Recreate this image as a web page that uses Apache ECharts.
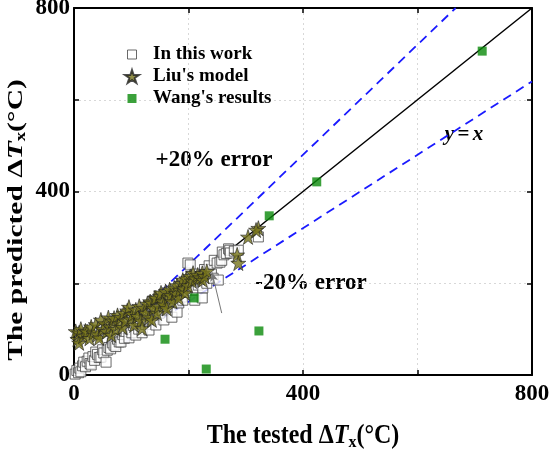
<!DOCTYPE html>
<html>
<head>
<meta charset="utf-8">
<script src="https://cdn.jsdelivr.net/npm/echarts@6/dist/echarts.min.js"></script>
<style>html,body{margin:0;padding:0;background:#fff;}#c{width:550px;height:453px;}</style>
</head>
<body>
<div id="c"></div>
<script>
// ---- Data ----
var axisTicks = [0, 400, 800];
var seriesNames = ['In this work', "Liu's model", "Wang's results"];
var xTitle = '{b|The tested Δ}{i|T}{s|x}{b|(°C)}';
var yTitle = '{b|The predicted Δ}{i|T}{s|x}{b|(°C)}';

// In this work: [tested, predicted]
var thisWork = [[2,2],[5,10],[8,5],[10,15],[12,7],[15,20],[17,28],[20,18],[23,30],[26,37],[28,25],[30,22],[33,40],[36,32],[38,50],[41,45],[44,38],[47,39],[50,55],[52,48],[56,28],[58,54],[61,60],[64,57],[67,70],[70,65],[73,62],[76,78],[79,72],[82,72],[85,88],[88,80],[91,95],[96,81],[98,100],[101,92],[104,108],[108,87],[110,112],[113,100],[116,118],[119,92],[122,125],[125,110],[128,130],[131,98],[134,138],[137,120],[140,145],[143,109],[146,150],[149,135],[152,158],[155,140],[157,120],[160,165],[163,150],[166,172],[169,159],[171,126],[174,178],[175,179],[178,160],[180,137],[183,157],[185,185],[188,170],[190,163],[193,195],[196,180],[199,244],[201,205],[203,240],[206,214],[208,190],[211,163],[214,220],[217,196],[220,205],[224,168],[225,190],[228,230],[232,200],[236,238],[240,220],[243,211],[245,250],[250,244],[252,207],[255,246],[258,250],[259,268],[262,262],[266,265],[270,275],[272,272],[273,266],[280,270],[287,272],[322,301]];

// Liu's model
var liuModel = [[3,95],[6,78],[9,92],[9,70],[12,100],[16,85],[20,96],[23,94],[27,80],[30,105],[34,92],[38,110],[41,88],[44,81],[47,120],[50,100],[54,112],[57,95],[60,125],[63,105],[65,87],[68,118],[70,124],[73,100],[76,130],[79,112],[82,126],[85,104],[87,135],[90,118],[93,140],[96,148],[99,122],[102,132],[105,109],[108,142],[111,128],[114,150],[117,118],[119,102],[122,146],[125,135],[128,155],[131,125],[133,160],[135,157],[136,120],[139,145],[141,168],[143,168],[145,135],[148,150],[150,172],[152,179],[155,160],[157,153],[160,182],[162,145],[165,170],[167,186],[169,174],[172,160],[175,190],[178,178],[180,195],[183,168],[185,185],[188,200],[190,207],[192,188],[194,179],[196,210],[199,195],[203,215],[206,205],[208,222],[212,210],[216,218],[220,212],[224,222],[225,207],[228,215],[232,226],[285,262],[287,244],[304,301],[322,320],[318,316]];

// Wang's results
var wangResults = [[713,706],[424,421],[341,347],[210,168],[159,78],[323,96],[231,13]];

// reference lines y = k x
var refSlopes = [1, 1.2, 0.8];
var axisMax = 800;

// arrow annotation (data coords): from, to
var arrowFrom = [258, 135];
var arrowTo = [241, 224];

function refLine(k) {
  var xEnd = Math.min(axisMax, axisMax / k);
  return [[0, 0], [xEnd, k * xEnd]];
}

var FONT = 'Liberation Serif';
var chart = echarts.init(document.getElementById('c'), null, {renderer: 'canvas'});

function baseAxis(extra) {
  var a = {
    type: 'value', min: 0, max: axisMax, interval: 200,
    axisLine: {show: true, onZero: false, lineStyle: {color: '#000', width: 2}},
    axisTick: {show: true, inside: true, length: 5, lineStyle: {color: '#000', width: 1.5}},
    splitLine: {show: false}
  };
  for (var k in extra) a[k] = extra[k];
  return a;
}

var labelStyle = {
  fontFamily: FONT, fontWeight: 'bold', fontSize: 23, color: '#000',
  formatter: function (v) { return axisTicks.indexOf(v) >= 0 ? String(v) : ''; }
};

function titleRich(size) {
  return {
    b: {fontFamily: FONT, fontWeight: 'bold', fontSize: size, fill: '#000'},
    i: {fontFamily: FONT, fontWeight: 'bold', fontStyle: 'italic', fontSize: size, fill: '#000'},
    s: {fontFamily: FONT, fontWeight: 'bold', fontSize: Math.round(size * 0.65), fill: '#000', padding: [Math.round(size * 0.5), 0, 0, 0]}
  };
}

var lineColors = ['#000', '#1a1aff', '#1a1aff'];
var lineTypes = ['solid', [9, 6], [9, 6]];
var STAR = 'path://M50,0 L61.8,35.4 L100,35.4 L69.1,57.3 L80.9,92.7 L50,70.8 L19.1,92.7 L30.9,57.3 L0,35.4 L38.2,35.4 Z';
var SMALL_SQ = 'path://M0,0 M14,14 M2.5,2.5 L11.5,2.5 L11.5,11.5 L2.5,11.5 Z';

var series = [];
series.push({
  name: seriesNames[0], type: 'scatter', data: thisWork, symbol: 'rect', symbolSize: 10,
  itemStyle: {color: '#fff', borderColor: '#444', borderWidth: 1}, z: 3
});
series.push({
  name: seriesNames[1], type: 'scatter', data: liuModel, symbol: STAR, symbolSize: 15,
  itemStyle: {color: '#77741a', borderColor: '#222', borderWidth: 0.8}, z: 4
});
series.push({
  name: seriesNames[2], type: 'scatter', data: wangResults, symbol: 'rect', symbolSize: 9,
  itemStyle: {color: '#0a8a0a'}, z: 5
});
refSlopes.forEach(function (k, i) {
  series.push({
    type: 'line', data: refLine(k), showSymbol: false, silent: true, z: 2,
    lineStyle: {color: lineColors[i], width: i === 0 ? 1.5 : 1.8, type: lineTypes[i]}
  });
});
series.push({
  type: 'line', data: [], silent: true, z: 6,
  markLine: {
    silent: true, symbol: ['none', 'arrow'], symbolSize: [6, 9],
    label: {show: false},
    lineStyle: {color: '#777', width: 1, type: 'solid'},
    emphasis: {disabled: true},
    data: [[{coord: arrowFrom}, {coord: arrowTo}]]
  }
});

var legendTextStyle = {fontFamily: FONT, fontWeight: 'bold', fontSize: 19, color: '#000', padding: [0, 0, 0, 9]};

chart.setOption({
  animation: false,
  backgroundColor: '#fff',
  grid: {left: 74, right: 18, top: 8, bottom: 78, containLabel: false, outerBoundsMode: 'none'},
  legend: {
    data: [
      {name: seriesNames[0], icon: SMALL_SQ, itemStyle: {color: '#fff', borderColor: '#444', borderWidth: 1}},
      {name: seriesNames[1], icon: STAR},
      {name: seriesNames[2], icon: SMALL_SQ}
    ],
    orient: 'vertical', left: 119, top: 40,
    itemWidth: 14, itemHeight: 14, itemGap: 3,
    textStyle: legendTextStyle
  },
  xAxis: [
    baseAxis({
      position: 'bottom',
      axisLabel: Object.assign({margin: 8}, labelStyle),
      splitLine: {show: true, lineStyle: {color: '#d8d8d8', type: [2, 3], width: 1}}
    }),
    baseAxis({position: 'top', axisLabel: {show: false}})
  ],
  yAxis: [
    baseAxis({
      position: 'left',
      axisLabel: Object.assign({margin: 4}, labelStyle),
      splitLine: {show: true, lineStyle: {color: '#d8d8d8', type: [2, 3], width: 1}}
    }),
    baseAxis({position: 'right', axisLabel: {show: false}})
  ],
  graphic: [
    {type: 'text', x: 303, y: 436, silent: true, scaleY: 1.1,
     style: {text: xTitle, rich: titleRich(24), align: 'center', verticalAlign: 'middle'}},
    {type: 'text', x: 16, y: 220, silent: true, rotation: Math.PI / 2, scaleX: 1.34,
     style: {text: yTitle, rich: titleRich(22), align: 'center', verticalAlign: 'middle'}},
    {type: 'text', x: 214, y: 160, silent: true,
     style: {text: '+20% error', font: 'bold 23px "Liberation Serif"', fill: '#000', align: 'center', verticalAlign: 'middle'}},
    {type: 'text', x: 311, y: 283, silent: true,
     style: {text: '-20% error', font: 'bold 23px "Liberation Serif"', fill: '#000', align: 'center', verticalAlign: 'middle'}},
    {type: 'text', x: 464, y: 135, silent: true,
     style: {text: '{i|y} {n|=} {i|x}', align: 'center', verticalAlign: 'middle',
       rich: {
         i: {fontFamily: FONT, fontWeight: 'bold', fontStyle: 'italic', fontSize: 21, fill: '#000'},
         n: {fontFamily: FONT, fontWeight: 'bold', fontSize: 21, fill: '#000'}
       }}}
  ],
  series: series
});
</script>
</body>
</html>
